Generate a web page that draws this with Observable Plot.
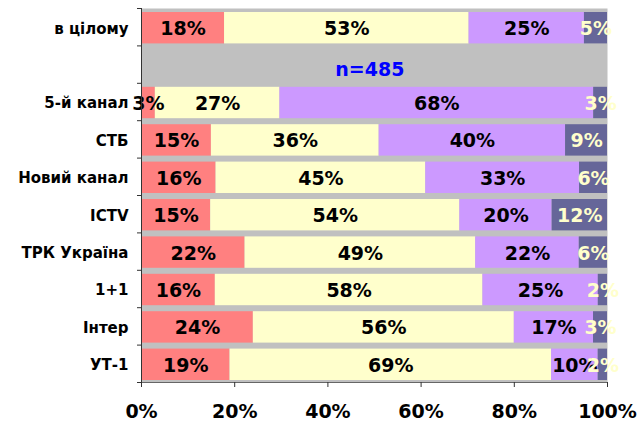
<!DOCTYPE html>
<html>
<head>
<meta charset="utf-8">
<script src="https://cdn.jsdelivr.net/npm/d3@7"></script>
<script src="https://cdn.jsdelivr.net/npm/@observablehq/plot@0.6"></script>
<style>
  html, body { margin: 0; padding: 0; background: #ffffff; }
  #chart { width: 638px; height: 421px; }
</style>
</head>
<body>
<div id="chart"></div>
<script>
// Categories (top to bottom) and their row slots (row 1 is the blank "n=485" band)
const categories = ["в цілому", "5-й канал", "СТБ", "Новий канал", "ICTV", "ТРК Україна", "1+1", "Інтер", "УТ-1"];
const rowIndex = [0, 2, 3, 4, 5, 6, 7, 8, 9];
const rowCount = 10;

// Series (stack order, left to right)
const seriesNames = ["s1", "s2", "s3", "s4"];
const seriesColors = ["#FF8080", "#FFFFCC", "#CC99FF", "#666699"];
const labelColors = ["#000000", "#000000", "#000000", "#FFFFCC"];

// Series values, percent
const s1 = [18, 3, 15, 16, 15, 22, 16, 24, 19];
const s2 = [53, 27, 36, 45, 54, 49, 58, 56, 69];
const s3 = [25, 68, 40, 33, 20, 22, 25, 17, 10];
const s4 = [5, 3, 9, 6, 12, 6, 2, 3, 2];
const seriesValues = [s1, s2, s3, s4];

// Annotation
const noteText = "n=485";
const noteX = 0.49;
const noteRow = 1;

// X tick values
const xTicks = [0, 0.2, 0.4, 0.6, 0.8, 1];

// Build tidy table
const data = [];
categories.forEach((c, i) => {
  seriesNames.forEach((s, j) => {
    data.push({category: c, row: rowIndex[i], series: s, si: j, value: seriesValues[j][i]});
  });
});

const font = "'DejaVu Sans', Verdana, sans-serif";

const stackOpts = {offset: "normalize"};

const chart = Plot.plot({
  width: 638,
  height: 421,
  marginLeft: 141,
  marginRight: 31,
  marginTop: 8,
  marginBottom: 39,
  style: {fontFamily: font, background: "#ffffff"},
  x: {domain: [0, 1], axis: null},
  y: {domain: [0, rowCount], reverse: true, axis: null},
  color: {domain: seriesNames, range: seriesColors},
  marks: [
    Plot.frame({fill: "#C0C0C0", stroke: null}),
    Plot.rectX(data, Plot.stackX(stackOpts, {
      x: "value",
      y1: d => d.row,
      y2: d => d.row + 1,
      z: "series",
      fill: "series",
      insetTop: 4,
      insetBottom: 2
    })),
    // value labels (dark for first three series, light for last)
    Plot.text(data, Plot.filter(d => d.si < 3, Plot.stackX(stackOpts, {
      x: "value",
      y: d => d.row + 0.5,
      z: "series",
      text: d => d.value + "%",
      fill: labelColors[0],
      fontSize: 19,
      fontWeight: "bold",
      dy: 2
    }))),
    Plot.text(data, Plot.filter(d => d.si === 3, Plot.stackX(stackOpts, {
      x: "value",
      y: d => d.row + 0.5,
      z: "series",
      text: d => d.value + "%",
      fill: labelColors[3],
      fontSize: 19,
      fontWeight: "bold",
      dy: 2
    }))),
    // annotation
    Plot.text([noteText], {
      x: noteX,
      y: noteRow + 0.5,
      text: d => d,
      fill: "#0000FF",
      fontSize: 19,
      fontWeight: "bold",
      dy: 5
    }),
    // category labels
    Plot.text(categories, {
      x: 0,
      y: (d, i) => rowIndex[i] + 0.5,
      text: d => d,
      textAnchor: "end",
      dx: -13,
      dy: 1.5,
      fontSize: 15,
      fontWeight: "bold",
      fill: "#000000"
    }),
    // axes
    Plot.axisY({ticks: d3.range(0, rowCount + 1), tickFormat: () => "", tickSize: 4, stroke: "#333333"}),
    Plot.ruleX([0], {stroke: "#333333"}),
    Plot.ruleY([rowCount], {stroke: "#666666"}),
    Plot.axisX({
      ticks: xTicks,
      tickFormat: d3.format(".0%"),
      tickSize: 5,
      tickPadding: 17,
      fontSize: 19,
      fontWeight: "bold",
      label: null,
      stroke: "#333333"
    })
  ]
});

document.getElementById("chart").appendChild(chart);
</script>
</body>
</html>
